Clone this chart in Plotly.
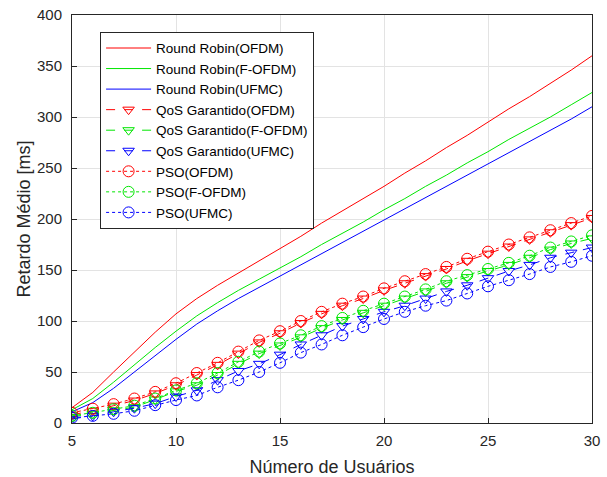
import plotly.graph_objects as go

x_users = list(range(5, 31))

rr_ofdm = [15, 30, 50, 70, 89, 107, 122, 135, 147, 159, 171, 183, 196, 208, 220, 232,
           245, 257, 270, 282, 295, 308, 320, 333, 346, 360]
rr_fofdm = [13, 24, 40, 57, 74, 90, 105, 118, 130, 141, 152, 163, 175, 186, 197, 209,
            220, 232, 243, 255, 266, 278, 289, 300, 312, 324]
rr_ufmc = [11, 20, 34, 50, 66, 82, 97, 110, 122, 133, 144, 155, 166, 177, 188, 199,
           210, 221, 232, 243, 254, 265, 276, 287, 298, 310]

qos_ofdm = [8, 12, 17, 22, 29, 37, 47, 57, 68, 79, 88, 98, 107, 115, 122, 130,
            137, 144, 151, 159, 166, 173, 180, 187, 194, 201]
qos_fofdm = [6, 9, 12.5, 15.5, 23, 31, 37, 47, 58, 68, 76, 84, 93, 101, 108, 115,
             122, 129, 137, 143, 149, 155, 162, 170, 176, 181]
qos_ufmc = [4, 7, 11, 14.5, 19, 26, 32, 42, 51, 58, 67, 77, 86, 95, 102, 109,
            115, 122, 129, 135, 142, 149, 155, 162, 167, 172]

pso_ofdm = [10, 14, 18.5, 24, 30.5, 39, 49, 59, 70, 81, 90, 100, 109, 117, 124, 132,
            139, 146, 153, 161, 168, 175, 182, 189, 196, 203]
pso_fofdm = [7, 10, 13.5, 17, 24, 32, 39, 49, 60, 70, 78, 86, 95, 103, 110, 117,
             124, 131, 139, 145, 151, 157, 164, 172, 178, 184]
pso_ufmc = [5, 7, 9, 12, 17.5, 22.5, 27, 35, 42, 50, 59, 69, 77, 86, 94, 102,
            109, 115, 120, 127, 134, 140, 146, 153, 158, 164]

x_ticks = [5, 10, 15, 20, 25, 30]
y_ticks = [0, 50, 100, 150, 200, 250, 300, 350, 400]

RED, GREEN, BLUE = "#FF0000", "#00E600", "#0000FF"
FONT = "Liberation Sans, Arial, sans-serif"

fig = go.Figure()

for name, y, c in [("Round Robin(OFDM)", rr_ofdm, RED),
                   ("Round Robin(F-OFDM)", rr_fofdm, GREEN),
                   ("Round Robin(UFMC)", rr_ufmc, BLUE)]:
    fig.add_trace(go.Scatter(x=x_users, y=y, name=name, mode="lines",
                             line=dict(color=c, width=1)))

for name, y, c in [("QoS Garantido(OFDM)", qos_ofdm, RED),
                   ("QoS Garantido(F-OFDM)", qos_fofdm, GREEN),
                   ("QoS Garantido(UFMC)", qos_ufmc, BLUE)]:
    fig.add_trace(go.Scatter(x=x_users, y=y, name=name, mode="lines+markers",
                             line=dict(color=c, width=1, dash="dash"),
                             marker=dict(symbol="triangle-down-open", size=10,
                                         color=c, line=dict(width=1, color=c))))

for name, y, c in [("PSO(OFDM)", pso_ofdm, RED),
                   ("PSO(F-OFDM)", pso_fofdm, GREEN),
                   ("PSO(UFMC)", pso_ufmc, BLUE)]:
    fig.add_trace(go.Scatter(x=x_users, y=y, name=name, mode="lines+markers",
                             line=dict(color=c, width=1, dash="dot"),
                             marker=dict(symbol="circle-open", size=11,
                                         color=c, line=dict(width=1, color=c))))

axis_common = dict(
    showgrid=True, gridcolor="#E3E3E3", gridwidth=1,
    showline=True, linecolor="#262626", linewidth=1, mirror=True,
    ticks="inside", ticklen=5, tickcolor="#262626",
    tickfont=dict(family=FONT, size=15, color="#262626"),
    zeroline=False, automargin=False,
)

fig.update_layout(
    width=607, height=477,
    margin=dict(l=72, r=15, t=15, b=54),
    paper_bgcolor="white", plot_bgcolor="white",
    font=dict(family=FONT, color="#262626"),
    xaxis=dict(range=[5, 30], tickvals=x_ticks, ticktext=[str(v) for v in x_ticks],
               title=dict(text="Número de Usuários", font=dict(size=18, color="#262626"),
                          standoff=12),
               ticklabelstandoff=4, **axis_common),
    yaxis=dict(range=[0, 400], tickvals=y_ticks, ticktext=[str(v) for v in y_ticks],
               title=dict(text="Retardo Médio [ms]", font=dict(size=18, color="#262626"),
                          standoff=1),
               ticklabelstandoff=6, **axis_common),
    legend=dict(x=0.054, y=0.959, xanchor="left", yanchor="top",
                bgcolor="white", bordercolor="#262626", borderwidth=1,
                font=dict(family=FONT, size=13.5, color="#000000"),
                tracegroupgap=0, itemwidth=45),
    showlegend=True,
)

fig.write_html("out.html")
